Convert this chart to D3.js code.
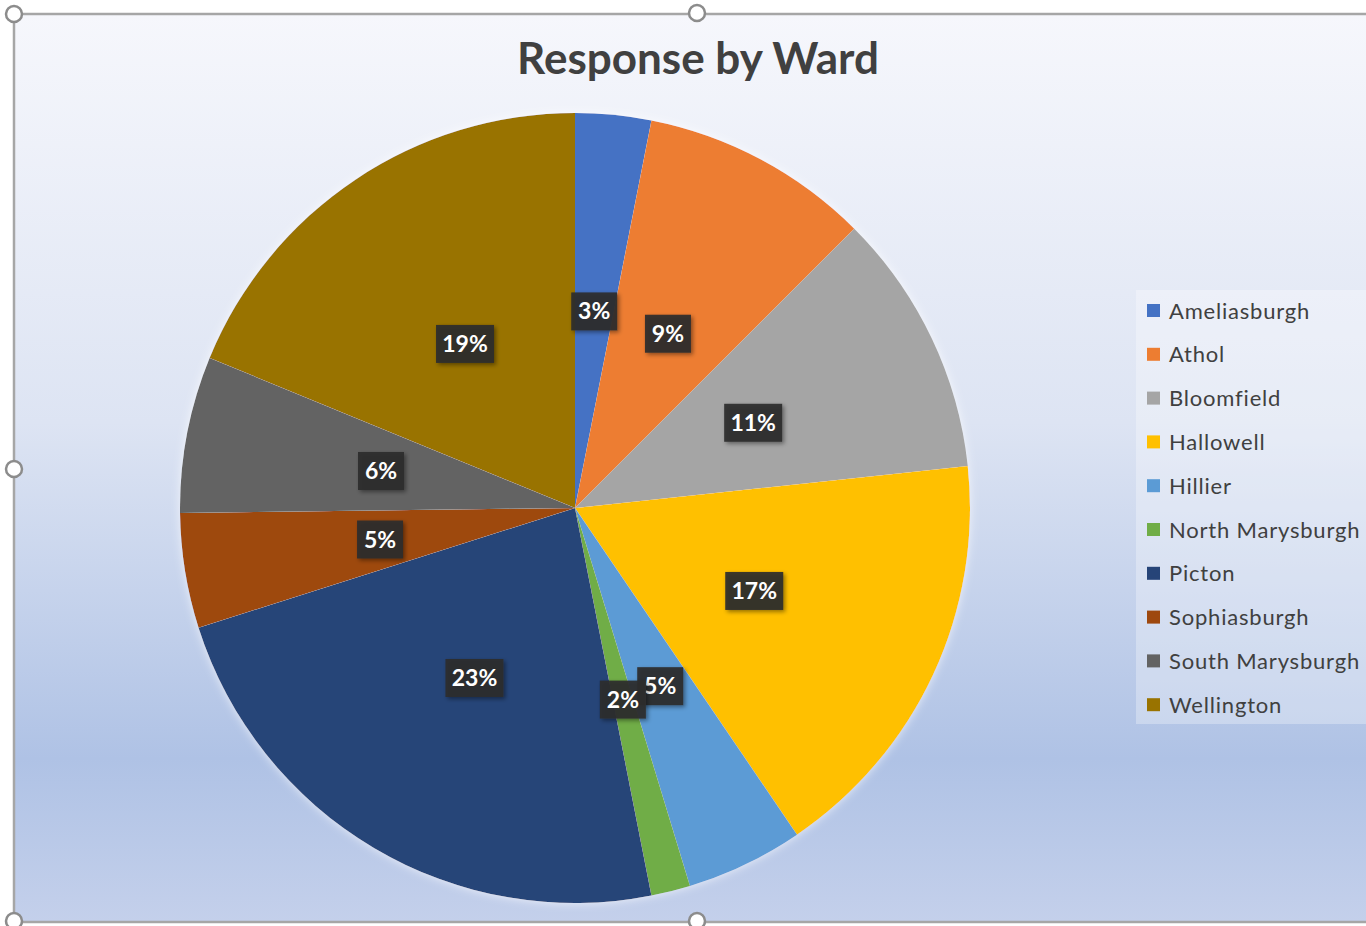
<!DOCTYPE html>
<html>
<head>
<meta charset="utf-8">
<script src="https://cdn.jsdelivr.net/npm/d3@7"></script>
<style>
  html, body { margin: 0; padding: 0; background: #ffffff; overflow: hidden; }
  svg { display: block; }
</style>
</head>
<body>
<svg id="chart" width="1366" height="926"></svg>
<script>
// ---- data ----
const categories = ["Ameliasburgh", "Athol", "Bloomfield", "Hallowell", "Hillier",
  "North Marysburgh", "Picton", "Sophiasburgh", "South Marysburgh", "Wellington"];
const values = [3.1, 9.4, 10.8, 17.2, 4.8, 1.6, 23.2, 4.7, 6.4, 18.8];
const colors = ["#4472C4", "#ED7D31", "#A5A5A5", "#FFC000", "#5B9BD5",
  "#70AD47", "#264478", "#9E480E", "#636363", "#997300"];
const title = "Response by Ward";

const svg = d3.select("#chart");
const defs = svg.append("defs");

// background gradient
const bg = defs.append("linearGradient").attr("id", "bg")
  .attr("x1", 0).attr("y1", 0).attr("x2", 0).attr("y2", 1);
bg.append("stop").attr("offset", "0%").attr("stop-color", "#f6f7fc");
bg.append("stop").attr("offset", "45%").attr("stop-color", "#dde4f3");
bg.append("stop").attr("offset", "82%").attr("stop-color", "#afc2e5");
bg.append("stop").attr("offset", "100%").attr("stop-color", "#c4d0eb");

const shadow = defs.append("filter").attr("id", "shadow")
  .attr("x", "-20%").attr("y", "-20%").attr("width", "140%").attr("height", "140%");
shadow.append("feDropShadow").attr("dx", 2).attr("dy", 2).attr("stdDeviation", 2)
  .attr("flood-color", "#000").attr("flood-opacity", 0.45);

const pieGlow = defs.append("filter").attr("id", "pieglow")
  .attr("x", "-10%").attr("y", "-10%").attr("width", "120%").attr("height", "120%");
pieGlow.append("feDropShadow").attr("dx", 0).attr("dy", 0).attr("stdDeviation", 5)
  .attr("flood-color", "#ffffff").attr("flood-opacity", 0.7);

// chart area
svg.append("rect").attr("x", 14).attr("y", 14).attr("width", 1400).attr("height", 908)
  .attr("fill", "url(#bg)").attr("stroke", "#a6a6a6").attr("stroke-width", 2.5);

// title
svg.append("text").attr("x", 698).attr("y", 74).attr("text-anchor", "middle")
  .attr("font-family", "Lato, 'Open Sans', sans-serif").attr("font-weight", "bold")
  .attr("font-size", 44).attr("fill", "#404040").text(title);

// pie
const cx = 575, cy = 508, R = 395;
const pie = d3.pie().sort(null).value(d => d)(values);
const arc = d3.arc().innerRadius(0).outerRadius(R);
const g = svg.append("g").attr("transform", `translate(${cx},${cy})`);
g.append("g").attr("filter", "url(#pieglow)")
  .selectAll("path").data(pie).join("path")
  .attr("d", arc).attr("fill", (d, i) => colors[i]);

// labels
const total = d3.sum(values);
const lab = g.selectAll("g.lab").data(pie).join("g").attr("class", "lab")
  .attr("transform", d => `translate(${arc.centroid(d)})`);
lab.each(function (d) {
  const el = d3.select(this);
  const txt = Math.round(d.data / total * 100) + "%";
  const w = txt.length > 2 ? 58 : 46;
  el.append("rect").attr("x", -w / 2).attr("y", -19).attr("width", w).attr("height", 38)
    .attr("fill", "#2e2e2e").attr("fill-opacity", 0.92).attr("filter", "url(#shadow)");
  el.append("text").attr("text-anchor", "middle").attr("y", 8)
    .attr("font-family", "Lato, 'Open Sans', sans-serif").attr("font-weight", "bold")
    .attr("font-size", 23).attr("fill", "#ffffff").text(txt);
});

// legend
const lg = svg.append("g");
lg.append("rect").attr("x", 1136).attr("y", 290).attr("width", 240).attr("height", 434)
  .attr("fill", "#ffffff").attr("fill-opacity", 0.3);
const rows = lg.selectAll("g.row").data(categories).join("g").attr("class", "row")
  .attr("transform", (d, i) => `translate(1147, ${310.5 + i * 43.8})`);
rows.append("rect").attr("x", 0).attr("y", -6.5).attr("width", 13).attr("height", 13)
  .attr("fill", (d, i) => colors[i]);
rows.append("text").attr("x", 22).attr("y", 8)
  .attr("font-family", "Lato, 'Open Sans', sans-serif").attr("font-size", 22)
  .attr("letter-spacing", 0.8).attr("fill", "#404040").text(d => d);

// selection handles
const handles = [[14, 14], [697, 13], [14, 469], [14, 921], [697, 921]];
svg.append("g").selectAll("circle").data(handles).join("circle")
  .attr("cx", d => d[0]).attr("cy", d => d[1]).attr("r", 8)
  .attr("fill", "#ffffff").attr("stroke", "#8c8c8c").attr("stroke-width", 2.5);
</script>
</body>
</html>
